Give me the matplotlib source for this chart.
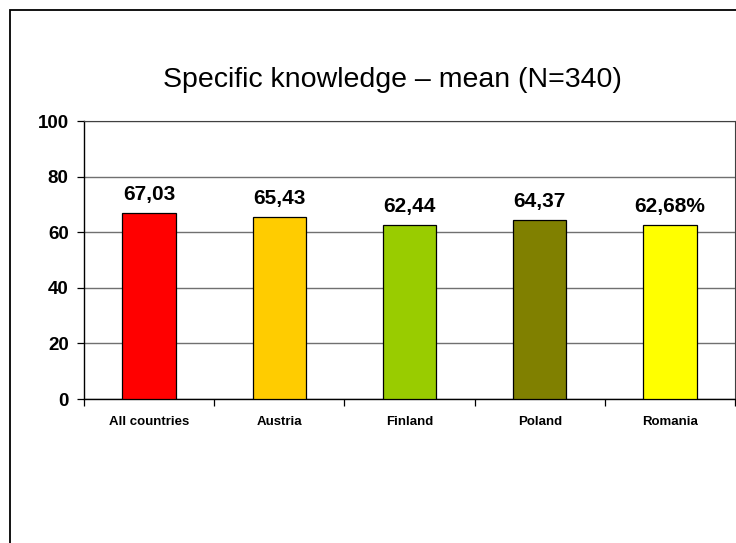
import matplotlib.pyplot as plt
from matplotlib.patches import Rectangle

plt.rcParams["font.family"] = ["Liberation Sans", "DejaVu Sans"]

# data
countries = ["All countries", "Austria", "Finland", "Poland", "Romania"]
means = [67.03, 65.43, 62.44, 64.37, 62.68]
value_labels = ["67,03", "65,43", "62,44", "64,37", "62,68%"]
bar_colors = ["#FF0000", "#FFCC00", "#99CC00", "#808000", "#FFFF00"]
y_ticks = [0, 20, 40, 60, 80, 100]

W, H = 736, 543
fig = plt.figure(figsize=(W / 100, H / 100), dpi=100)
fig.patch.set_facecolor("white")

# outer chart frame (runs off the right and bottom edge)
fig.add_artist(Rectangle((10 / W, -0.05), 1.2, 1 - 10 / H + 0.05,
                         transform=fig.transFigure, fill=False,
                         edgecolor="black", linewidth=1.3))

left, right, top, bottom = 84, 735, 121, 399
ax = fig.add_axes([left / W, 1 - bottom / H, (right - left) / W, (bottom - top) / H])

x = list(range(len(countries)))
ax.bar(x, means, width=0.41, color=bar_colors, edgecolor="black",
       linewidth=0.9, zorder=3)

for xi, val, lab in zip(x, means, value_labels):
    ax.text(xi, val + 4.7, lab, ha="center", va="baseline",
            fontsize=15, fontweight="bold")

ax.set_xlim(-0.5, len(countries) - 0.5)
ax.set_ylim(0, 100)
ax.set_yticks(y_ticks)
ax.set_yticklabels([str(t) for t in y_ticks], fontsize=13.5, fontweight="bold")
ax.set_xticks(x)
ax.set_xticklabels(countries, fontsize=9.5, fontweight="bold")
ax.tick_params(axis="x", length=0, pad=12)
ax.set_xticks([i - 0.5 for i in range(len(countries) + 1)], minor=True)
ax.tick_params(axis="x", which="minor", length=5, direction="out", width=0.9)
ax.tick_params(axis="y", length=5, direction="out", width=0.9, pad=6)

ax.yaxis.grid(True, color="#707070", linewidth=1.0, zorder=0)
for s in ["left", "bottom"]:
    ax.spines[s].set_color("black")
    ax.spines[s].set_linewidth(1.0)
ax.spines["top"].set_color("#404040")
ax.spines["right"].set_color("#404040")
ax.set_axisbelow(True)

fig.text(392 / W, 1 - 87 / H,
         "Specific knowledge \u2013 mean (N=340)",
         ha="center", va="baseline", fontsize=20.5)

fig.savefig("out.png", dpi=100, facecolor="white")
